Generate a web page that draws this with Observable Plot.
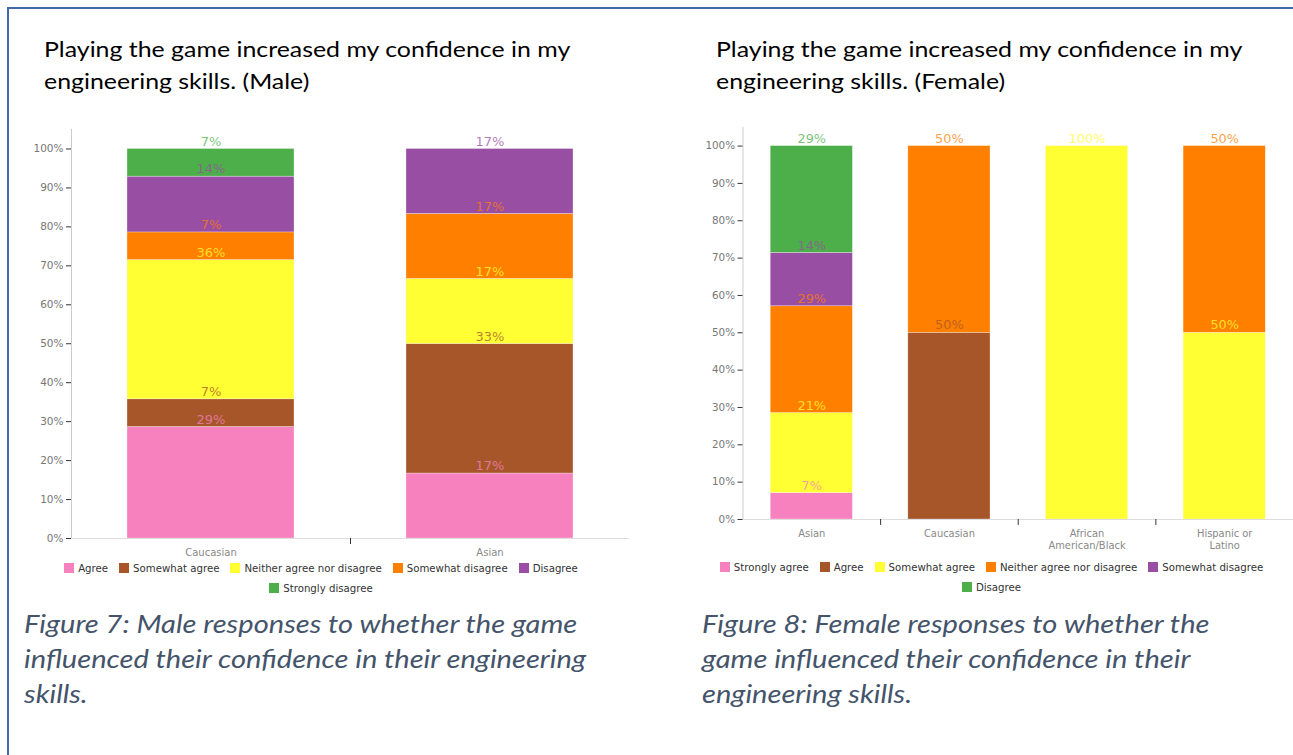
<!DOCTYPE html>
<html>
<head>
<meta charset="utf-8">
<script src="https://cdn.jsdelivr.net/npm/d3@7"></script>
<script src="https://cdn.jsdelivr.net/npm/@observablehq/plot@0.6"></script>
<style>
html, body { margin: 0; padding: 0; background: #fff; overflow: hidden; }
#page { position: relative; width: 1293px; height: 755px; overflow: hidden; background: #fff; }
.abs { position: absolute; }
.border { left: 7px; top: 7px; width: 1400px; height: 900px; border-top: 2px solid #4468a8; border-left: 2px solid #4468a8; }
.title { font-family: Lato, sans-serif; font-size: 21px; line-height: 32px; color: #000; white-space: nowrap; transform: scaleX(1.185); transform-origin: 0 0; }
.caption { font-family: Lato, sans-serif; font-style: italic; font-size: 25px; line-height: 35px; color: #44546a; white-space: nowrap; transform: scaleX(1.164); transform-origin: 0 0; }
.legend { display: flex; flex-wrap: wrap; justify-content: center; font-family: "DejaVu Sans", sans-serif; font-size: 10.2px; color: #333; }
.item { display: flex; align-items: center; height: 20px; margin: 0 5.5px; white-space: nowrap; }
.sw { width: 10px; height: 10px; margin-right: 4px; flex: none; }
</style>
</head>
<body>
<div id="page">
  <div class="abs border"></div>
</div>
<script>
// ---------- data ----------
const colors = ["#f781bf", "#a65628", "#ffff33", "#ff7f00", "#984ea3", "#4daf4a"];

const maleTitle = ["Playing the game increased my confidence in my", "engineering skills. (Male)"];
const maleCaption = ["Figure 7: Male responses to whether the game", "influenced their confidence in their engineering", "skills."];
const maleCategories = ["Caucasian", "Asian"];
const maleTickLabels = ["Caucasian", "Asian"];
const maleResponses = ["Agree", "Somewhat agree", "Neither agree nor disagree", "Somewhat disagree", "Disagree", "Strongly disagree"];
const maleCaucasian = [28.6, 7.1, 35.7, 7.1, 14.3, 7.1];
const maleAsian = [16.7, 33.3, 16.7, 16.7, 16.7, 0];

const femaleTitle = ["Playing the game increased my confidence in my", "engineering skills. (Female)"];
const femaleCaption = ["Figure 8: Female responses to whether the", "game influenced their confidence in their", "engineering skills."];
const femaleCategories = ["Asian", "Caucasian", "African American/Black", "Hispanic or Latino"];
const femaleTickLabels = ["Asian", "Caucasian", "African\nAmerican/Black", "Hispanic or\nLatino"];
const femaleResponses = ["Strongly agree", "Agree", "Somewhat agree", "Neither agree nor disagree", "Somewhat disagree", "Disagree"];
const femaleAsian = [7.1, 0, 21.4, 28.6, 14.3, 28.6];
const femaleCaucasian = [0, 50, 0, 50, 0, 0];
const femaleAfrican = [0, 0, 100, 0, 0, 0];
const femaleHispanic = [0, 0, 50, 50, 0, 0];

const yTicks = [0, 0.1, 0.2, 0.3, 0.4, 0.5, 0.6, 0.7, 0.8, 0.9, 1.0];

// ---------- helpers ----------
const page = document.getElementById("page");

function addBlock(cls, lines, left, top) {
  const d = document.createElement("div");
  d.className = "abs " + cls;
  d.style.left = left + "px";
  d.style.top = top + "px";
  lines.forEach((t, i) => {
    if (i) d.appendChild(document.createElement("br"));
    d.appendChild(document.createTextNode(t));
  });
  page.appendChild(d);
}

function addLegend(responses, left, top, width) {
  const d = document.createElement("div");
  d.className = "abs legend";
  d.style.left = left + "px";
  d.style.top = top + "px";
  d.style.width = width + "px";
  responses.forEach((r, i) => {
    const it = document.createElement("div");
    it.className = "item";
    const sw = document.createElement("span");
    sw.className = "sw";
    sw.style.background = colors[i];
    it.appendChild(sw);
    it.appendChild(document.createTextNode(r));
    d.appendChild(it);
  });
  page.appendChild(d);
}

function chart({cats, tickLabels, responses, values, width, height, ml, mr, mt, mb, left, top}) {
  const rows = [];
  cats.forEach((c, i) => responses.forEach((r, j) => rows.push({category: c, response: r, value: values[i][j]})));
  const step = (width - ml - mr) / cats.length;
  const svg = Plot.plot({
    width, height,
    marginLeft: ml, marginRight: mr, marginTop: mt, marginBottom: mb,
    style: {fontFamily: "DejaVu Sans, sans-serif", fontSize: "10.5px", background: "transparent", overflow: "visible"},
    x: {domain: cats, paddingInner: 0.4, paddingOuter: 0.2, axis: null},
    y: {domain: [0, 1.05], axis: null},
    color: {domain: responses, range: colors},
    marks: [
      Plot.barY(rows, {x: "category", y: "value", fill: "response", offset: "normalize", order: responses,
        stroke: "#fff", strokeWidth: 0.6, strokeOpacity: 0.5}),
      Plot.text(rows.filter(d => d.value > 0), Plot.stackY2({
        x: "category", y: "value", z: "response", fill: "response", offset: "normalize", order: responses,
        text: d => Math.round(d.value) + "%", dy: -7.5, fontSize: 13, fillOpacity: 0.75
      })),
      Plot.frame({anchor: "left", stroke: "#ccc"}),
      Plot.ruleY([0], {stroke: "#ddd"}),
      Plot.axisY({ticks: yTicks, tickSize: 5, tickPadding: 3, stroke: "#333", fill: "#777", label: null,
        tickFormat: d => Math.round(d * 100) + "%"}),
      Plot.axisX({ticks: cats.slice(1), tickSize: 6, fill: "none", stroke: "#333", dx: -step / 2, label: null}),
      Plot.axisX({ticks: cats, tickSize: 0, tickPadding: 8, fill: "#888", lineHeight: 1.3, label: null,
        fontSize: 10, tickFormat: d => tickLabels[cats.indexOf(d)]})
    ]
  });
  const wrap = document.createElement("div");
  wrap.className = "abs";
  wrap.style.left = left + "px";
  wrap.style.top = top + "px";
  wrap.appendChild(svg);
  page.appendChild(wrap);
}

// ---------- build ----------
addBlock("title", maleTitle, 44, 33);
addBlock("title", femaleTitle, 716, 33);

chart({cats: maleCategories, tickLabels: maleTickLabels, responses: maleResponses,
  values: [maleCaucasian, maleAsian],
  width: 620, height: 443, ml: 51, mr: 11, mt: 9, mb: 25, left: 20, top: 120});

chart({cats: femaleCategories, tickLabels: femaleTickLabels, responses: femaleResponses,
  values: [femaleAsian, femaleCaucasian, femaleAfrican, femaleHispanic],
  width: 609, height: 435, ml: 53, mr: 0, mt: 9, mb: 30, left: 690, top: 118});

addLegend(maleResponses, 51, 558, 540);
addLegend(femaleResponses, 704, 557, 575);

addBlock("caption", maleCaption, 24, 606);
addBlock("caption", femaleCaption, 702, 606);
</script>
</body>
</html>
